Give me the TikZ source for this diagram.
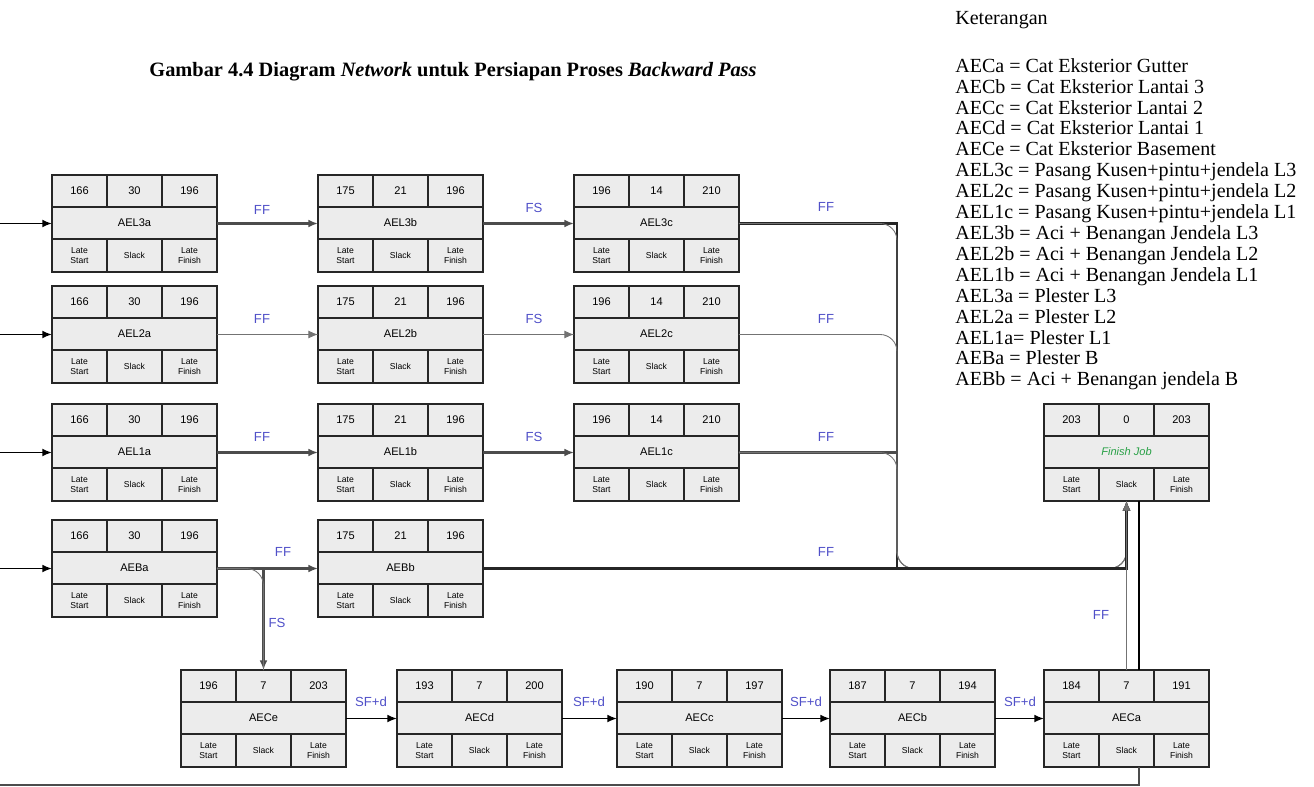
\documentclass[tikz,border=0pt]{standalone}
\usepackage{fontspec}
\setmainfont{Liberation Serif}
\setsansfont{Liberation Sans}
\usepackage{xcolor}
\usetikzlibrary{arrows.meta,positioning,calc}
\definecolor{biru}{RGB}{80,80,200}
\definecolor{hijau}{RGB}{40,160,70}
\definecolor{isian}{RGB}{236,236,236}
\tikzset{
  kotak/.style={rectangle,draw=black!85,line width=1.1pt,fill=isian,
    minimum width=3.3cm,minimum height=1.94cm,inner sep=0pt,outer sep=0pt},
  sekat/.style={draw=black!85,line width=1.1pt},
  isi/.style={font=\sffamily\fontsize{6.3}{7}\selectfont,inner sep=0pt},
  ket/.style={font=\sffamily\fontsize{4.9}{5.5}\selectfont,align=center,inner sep=0pt},
  lbl/.style={font=\sffamily\fontsize{7.5}{8}\selectfont,text=biru,inner sep=1pt},
  legenda/.style={font=\fontsize{11.4}{11.9}\selectfont,inner sep=0pt},
  panah/.style={-{Latex[length=5.5pt,width=4.5pt]}},
  tebal/.style={line width=1.6pt,black!70},
  tipis/.style={line width=0.5pt,black!55},
  sedang/.style={line width=1pt,black},
  abu/.style={line width=1.1pt,black!55},
}
% nama, x kiri, y atas, LS, slack, LF, label
\newcommand{\aktivitas}[7]{%
  \node[kotak] (#1) at (#2+82.5,#3+48.5) {};
  \draw[sekat] (#2,#3+32) -- ++(165,0) (#2,#3+64) -- ++(165,0)
    (#2+55,#3) -- ++(0,32) (#2+110,#3) -- ++(0,32)
    (#2+55,#3+64) -- ++(0,33) (#2+110,#3+64) -- ++(0,33);
  \node[isi] (#1-ls) at (#2+27.5,#3+16) {#4};
  \node[isi] (#1-sl) at (#2+82.5,#3+16) {#5};
  \node[isi] (#1-lf) at (#2+137.5,#3+16) {#6};
  \node[isi] (#1-nm) at (#2+82.5,#3+48) {#7};
  \node[ket] (#1-a) at (#2+27.5,#3+80.5) {Late\\Start};
  \node[ket] (#1-b) at (#2+82.5,#3+80.5) {Slack};
  \node[ket] (#1-c) at (#2+137.5,#3+80.5) {Late\\Finish};
}

\begin{document}
\begin{tikzpicture}[x=0.02cm,y=-0.02cm]
\useasboundingbox (0,0) rectangle (1314,787);

% judul dan keterangan
\node[font=\bfseries\fontsize{11.6}{13}\selectfont] (judul) at (453,72)
  {Gambar 4.4 Diagram \textit{Network} untuk Persiapan Proses \textit{Backward Pass}};
\node[legenda,anchor=west] (ketjudul) at (955,20) {Keterangan};
\node[legenda,anchor=north west,align=left] (ketisi) at (955,58) {%
AECa = Cat Eksterior Gutter\\
AECb = Cat Eksterior Lantai 3\\
AECc = Cat Eksterior Lantai 2\\
AECd = Cat Eksterior Lantai 1\\
AECe = Cat Eksterior Basement\\
AEL3c = Pasang Kusen+pintu+jendela L3\\
AEL2c = Pasang Kusen+pintu+jendela L2\\
AEL1c = Pasang Kusen+pintu+jendela L1\\
AEL3b = Aci + Benangan Jendela L3\\
AEL2b = Aci + Benangan Jendela L2\\
AEL1b = Aci + Benangan Jendela L1\\
AEL3a = Plester L3\\
AEL2a = Plester L2\\
AEL1a= Plester L1\\
AEBa = Plester B\\
AEBb = Aci + Benangan jendela B};

% aktivitas
\aktivitas{AEL3a}{52}{175}{166}{30}{196}{AEL3a}
\aktivitas{AEL3b}{318}{175}{175}{21}{196}{AEL3b}
\aktivitas{AEL3c}{574}{175}{196}{14}{210}{AEL3c}
\aktivitas{AEL2a}{52}{286}{166}{30}{196}{AEL2a}
\aktivitas{AEL2b}{318}{286}{175}{21}{196}{AEL2b}
\aktivitas{AEL2c}{574}{286}{196}{14}{210}{AEL2c}
\aktivitas{AEL1a}{52}{404}{166}{30}{196}{AEL1a}
\aktivitas{AEL1b}{318}{404}{175}{21}{196}{AEL1b}
\aktivitas{AEL1c}{574}{404}{196}{14}{210}{AEL1c}
\aktivitas{AEBa}{52}{520}{166}{30}{196}{AEBa}
\aktivitas{AEBb}{318}{520}{175}{21}{196}{AEBb}
\aktivitas{Finish}{1044}{404}{203}{0}{203}{\textcolor{hijau}{\itshape Finish Job}}
\aktivitas{AECe}{181}{670}{196}{7}{203}{AECe}
\aktivitas{AECd}{397}{670}{193}{7}{200}{AECd}
\aktivitas{AECc}{617}{670}{190}{7}{197}{AECc}
\aktivitas{AECb}{830}{670}{187}{7}{194}{AECb}
\aktivitas{AECa}{1044}{670}{184}{7}{191}{AECa}

\coordinate (m1) at (0,223.5);
\coordinate (m2) at (0,334.5);
\coordinate (m3) at (0,452.5);
\coordinate (m4) at (0,568.5);
\coordinate (j1) at (897,223.5);
\coordinate (jb) at (897,568.5);
\coordinate (kiri) at (0,785);
\coordinate (fa) at ($(Finish.south)+(12.5,0)$);
\coordinate (fb) at ($(AECa.north)+(12.5,0)$);
\coordinate (fc) at ($(AECa.south)+(12.5,0)$);

% baris L3
\draw[sedang,panah] (m1) -- (AEL3a);
\draw[tebal,panah] (AEL3a) -- (AEL3b);
\draw[tebal,panah] (AEL3b) -- (AEL3c);
\draw[tebal,black!85] (AEL3c) -- (j1) -- (jb);
\draw[tipis,rounded corners=0.34cm,panah] (AEL3c) -| (jb) -| (Finish);
% baris L2
\draw[sedang,panah] (m2) -- (AEL2a);
\draw[tipis,panah] (AEL2a) -- (AEL2b);
\draw[tipis,panah] (AEL2b) -- (AEL2c);
\draw[tipis,rounded corners=0.34cm,panah] (AEL2c) -| (jb) -| (Finish);
% baris L1
\draw[sedang,panah] (m3) -- (AEL1a);
\draw[tebal,panah] (AEL1a) -- (AEL1b);
\draw[tebal,panah] (AEL1b) -- (AEL1c);
\draw[tebal] (AEL1c) -- (AEL1c -| jb);
\draw[tipis,rounded corners=0.34cm,panah] (AEL1c) -| (jb) -| (Finish);
% baris B
\draw[sedang,panah] (m4) -- (AEBa);
\draw[tebal,panah] (AEBa) -- (AEBb);
\draw[tebal,panah] (AEBa) -| (AECe);
\draw[tipis,rounded corners=0.34cm] (AEBa) -| (AECe);
\draw[tebal,black!85,line width=2pt,panah] (AEBb) -| (Finish);
% baris AEC
\draw[sedang,panah] (AECe) -- (AECd);
\draw[sedang,panah] (AECd) -- (AECc);
\draw[sedang,panah] (AECc) -- (AECb);
\draw[sedang,panah] (AECb) -- (AECa);
\draw[abu,panah] (AECa) -- (Finish);
\draw[tebal,black] (fa) -- (fb);
\draw[tebal] (fc) |- (kiri);

% label hubungan
\node[lbl] (h1) at (262,210) {FF};
\node[lbl] (h2) at (534,208) {FS};
\node[lbl] (h3) at (826,207) {FF};
\node[lbl] (h4) at (262,319) {FF};
\node[lbl] (h5) at (534,319) {FS};
\node[lbl] (h6) at (826,319) {FF};
\node[lbl] (h7) at (262,437) {FF};
\node[lbl] (h8) at (534,437) {FS};
\node[lbl] (h9) at (826,437) {FF};
\node[lbl] (h10) at (283,552) {FF};
\node[lbl] (h11) at (277,623) {FS};
\node[lbl] (h12) at (826,552) {FF};
\node[lbl] (h13) at (1101,615) {FF};
\node[lbl] (h14) at (371,702) {SF+d};
\node[lbl] (h15) at (589,702) {SF+d};
\node[lbl] (h16) at (806,702) {SF+d};
\node[lbl] (h17) at (1020,702) {SF+d};
\end{tikzpicture}
\end{document}
